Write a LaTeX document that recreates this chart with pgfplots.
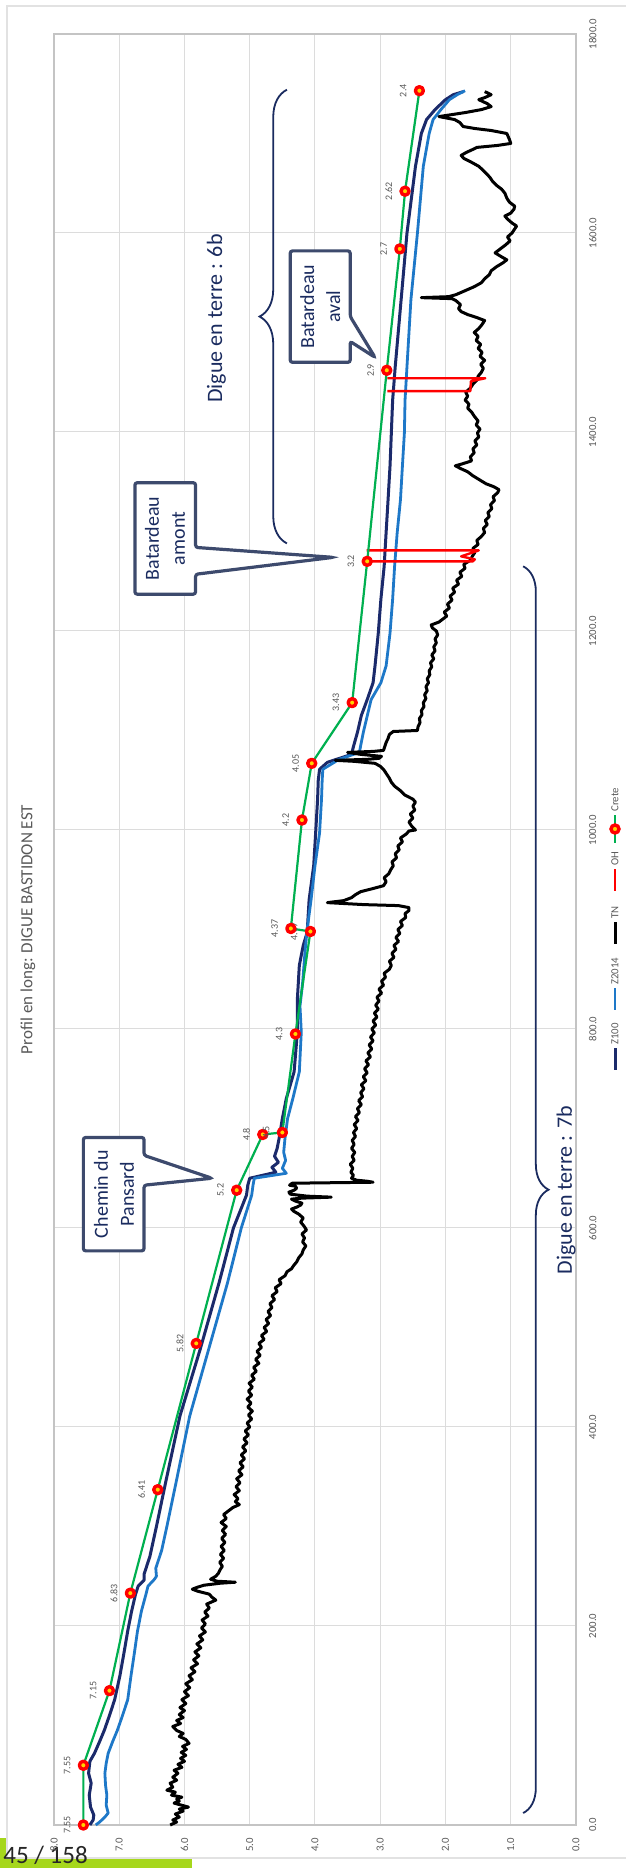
\documentclass[border=0pt]{standalone}
\usepackage{fontspec}
\setmainfont{Carlito}
\usepackage{pgfplots}
\pgfplotsset{compat=1.18}
\usepackage{pgfplotstable}
\usetikzlibrary{decorations.pathreplacing}

\definecolor{zcentc}{HTML}{1B2A6B}
\definecolor{zdeuxc}{HTML}{1E78C8}
\definecolor{cretec}{HTML}{00B050}
\definecolor{ohc}{HTML}{FF0000}
\definecolor{markfill}{HTML}{FFD400}
\definecolor{labelgray}{HTML}{595959}
\definecolor{gridgray}{HTML}{DCDCDC}
\definecolor{axisgray}{HTML}{C4C4C4}
\definecolor{framec}{HTML}{E2E2E2}
\definecolor{calloutc}{HTML}{3D4A6D}
\definecolor{navytext}{HTML}{1A2B5F}
\definecolor{pagegreen}{HTML}{A6D71C}

\newcommand\tickfont{\fontsize{5.4}{6}\selectfont}
\newcommand\valfont{\fontsize{5}{6}\selectfont}
\newcommand\titlefont{\fontsize{8.5}{10}\selectfont}
\newcommand\notefont{\fontsize{11}{13}\selectfont}
\newcommand\calloutfont{\fontsize{10}{13}\selectfont}

% Crete (crest levels with stated values)
\pgfplotstableread{
d z
0 7.55
60 7.55
135 7.15
233 6.83
337 6.41
484 5.82
638 5.2
694 4.8
696 4.5
795 4.3
898 4.07
901 4.37
1010 4.2
1067 4.05
1128 3.43
1270 3.2
1462 2.9
1584 2.7
1642 2.62
1743 2.4
}\crete

% Z100
\pgfplotstableread{
d z
0 7.45
5 7.40
10 7.39
18 7.44
30 7.46
42 7.43
52 7.47
64 7.45
72 7.38
84 7.30
95 7.23
110 7.15
126 7.07
150 6.99
172 6.93
195 6.87
215 6.81
232 6.75
240 6.71
246 6.62
252 6.62
270 6.53
300 6.43
344 6.29
411 6.07
478 5.76
545 5.47
600 5.25
633 5.05
643 5.03
650 5.00
656 4.60
661 4.66
666 4.56
672 4.62
680 4.58
690 4.55
710 4.50
730 4.44
757 4.32
797 4.27
830 4.27
864 4.24
884 4.18
897 4.12
930 4.09
964 4.02
997 3.99
1031 3.96
1050 3.95
1061 3.93
1068 3.81
1076 3.44
1084 3.41
1098 3.35
1115 3.29
1131 3.20
1148 3.11
1165 3.08
1198 3.03
1232 2.99
1265 2.94
1299 2.91
1332 2.88
1366 2.85
1399 2.83
1432 2.81
1466 2.77
1533 2.68
1600 2.59
1667 2.46
1700 2.37
1714 2.29
1724 2.16
1734 2.00
1739 1.88
1742 1.73
}\zcent

% Z2014
\pgfplotstableread{
d z
0 7.36
3 7.30
8 7.22
12 7.17
20 7.20
30 7.19
40 7.21
52 7.22
62 7.20
72 7.17
84 7.10
95 7.03
110 6.95
126 6.87
150 6.82
172 6.77
195 6.72
215 6.66
232 6.59
240 6.56
247 6.46
250 6.43
258 6.44
276 6.35
300 6.27
344 6.13
411 5.92
478 5.63
545 5.34
600 5.13
633 4.97
643 4.95
650 4.93
655 4.44
660 4.50
668 4.45
676 4.48
690 4.46
710 4.42
730 4.34
757 4.24
797 4.21
823 4.23
846 4.19
880 4.15
900 4.12
930 4.06
964 4.00
997 3.93
1031 3.90
1050 3.89
1061 3.88
1071 3.63
1078 3.32
1098 3.26
1131 3.14
1148 2.99
1165 2.91
1198 2.85
1232 2.81
1265 2.78
1299 2.74
1332 2.69
1366 2.66
1399 2.63
1432 2.62
1466 2.59
1533 2.53
1600 2.43
1667 2.34
1700 2.25
1714 2.19
1724 2.07
1734 1.94
1739 1.82
1743 1.70
}\zdeux

% TN (terrain naturel)
\pgfplotstableread{
d z
0 6.22
3 6.12
5 6.18
8 6.08
11 6.14
14 6.02
16 6.08
18 5.94
20 6.05
22 6.16
24 6.08
26 6.12
28 6.04
30 6.20
33 6.14
35 6.27
38 6.18
42 6.22
45 6.12
48 6.18
52 6.10
55 6.16
58 6.04
61 6.10
64 6.00
67 6.06
70 5.98
73 6.05
76 5.97
79 6.03
82 5.93
86 5.98
89 6.08
92 6.02
95 6.12
99 6.18
102 6.06
105 6.12
108 6.02
111 6.08
115 6.00
118 6.07
122 5.98
126 6.04
130 5.94
134 6.00
138 5.92
142 5.98
146 5.88
150 5.93
154 5.84
158 5.90
162 5.80
166 5.86
170 5.78
174 5.84
178 5.75
182 5.81
186 5.72
190 5.77
194 5.68
198 5.74
202 5.68
206 5.73
210 5.64
214 5.69
218 5.62
222 5.66
226 5.52
229 5.58
232 5.62
235 5.80
237 5.88
239 5.80
241 5.70
243 5.45
244 5.22
245 5.50
247 5.60
250 5.52
253 5.48
257 5.45
260 5.42
264 5.46
268 5.40
272 5.45
276 5.39
280 5.44
284 5.38
288 5.43
292 5.37
296 5.42
300 5.36
304 5.44
308 5.36
312 5.40
316 5.32
319 5.26
322 5.16
325 5.22
328 5.18
332 5.24
336 5.16
340 5.21
344 5.15
348 5.20
352 5.12
356 5.17
360 5.10
364 5.15
368 5.08
372 5.13
376 5.06
380 5.11
384 5.04
388 5.09
392 5.02
396 5.07
400 5.00
404 5.04
408 4.97
412 5.02
416 4.96
420 5.03
424 4.98
428 5.04
432 4.97
436 5.02
440 4.96
444 5.01
448 4.93
452 4.97
456 4.90
460 4.94
464 4.86
468 4.91
472 4.84
476 4.89
480 4.82
484 4.86
488 4.78
492 4.82
496 4.74
500 4.78
504 4.71
508 4.75
512 4.68
516 4.72
520 4.66
524 4.69
528 4.62
532 4.66
536 4.58
540 4.61
544 4.52
548 4.55
552 4.46
556 4.43
559 4.36
562 4.33
566 4.28
570 4.25
574 4.20
578 4.18
582 4.14
586 4.19
590 4.16
594 4.20
598 4.13
602 4.17
606 4.22
610 4.18
614 4.25
617 4.33
619 4.36
621 4.28
623 4.22
625 4.20
627 4.30
629 4.36
630 4.20
631 3.75
632 4.12
634 4.38
636 4.40
638 4.32
640 4.28
642 4.30
643 4.39
645 4.35
646 3.11
647 3.20
648 3.36
650 3.44
653 3.41
656 3.45
660 3.42
664 3.46
668 3.40
672 3.43
676 3.39
680 3.44
684 3.40
688 3.43
692 3.38
696 3.41
700 3.36
704 3.40
708 3.34
712 3.38
716 3.32
720 3.35
724 3.29
728 3.33
732 3.27
736 3.30
740 3.25
744 3.29
748 3.22
752 3.26
756 3.20
760 3.24
764 3.18
768 3.22
772 3.15
776 3.19
780 3.13
784 3.17
788 3.11
792 3.15
796 3.09
800 3.13
804 3.07
808 3.11
812 3.05
816 3.09
820 3.03
824 3.07
828 3.02
832 3.05
836 2.98
840 3.02
844 2.95
848 2.98
852 2.92
856 2.94
860 2.86
864 2.83
868 2.86
872 2.79
876 2.82
880 2.76
884 2.79
888 2.72
892 2.76
896 2.70
900 2.73
904 2.66
908 2.69
912 2.61
916 2.62
919 2.56
922 2.56
924 2.72
925 3.25
927 3.81
929 3.56
932 3.44
935 3.38
938 3.30
941 3.12
944 2.95
948 2.91
952 2.94
956 2.87
960 2.84
964 2.80
968 2.82
972 2.75
976 2.77
980 2.71
984 2.73
988 2.66
992 2.69
996 2.60
999 2.56
1000 2.46
1004 2.52
1008 2.56
1012 2.50
1016 2.54
1020 2.47
1024 2.50
1028 2.46
1031 2.50
1035 2.62
1040 2.70
1044 2.78
1048 2.83
1052 2.86
1056 2.90
1060 2.94
1064 3.00
1067 3.08
1069 3.40
1070 3.69
1071 3.20
1072 3.02
1074 2.98
1076 3.30
1078 3.50
1079 3.10
1080 2.95
1084 2.93
1088 2.91
1092 2.88
1096 2.86
1099 2.80
1100 2.43
1104 2.42
1108 2.39
1112 2.40
1116 2.36
1120 2.37
1124 2.33
1128 2.34
1132 2.30
1136 2.32
1140 2.28
1144 2.30
1148 2.26
1152 2.28
1156 2.24
1160 2.25
1164 2.21
1168 2.23
1172 2.18
1176 2.21
1180 2.16
1184 2.18
1188 2.14
1192 2.16
1196 2.12
1200 2.14
1203 2.20
1206 2.22
1209 2.10
1212 2.04
1215 1.98
1219 2.02
1223 1.94
1227 1.97
1231 1.90
1235 1.93
1239 1.86
1243 1.89
1247 1.80
1251 1.83
1255 1.75
1259 1.78
1263 1.70
1267 1.72
1271 1.62
1275 1.59
1279 1.55
1283 1.58
1287 1.50
1291 1.52
1295 1.45
1299 1.40
1303 1.42
1307 1.36
1311 1.39
1315 1.33
1319 1.35
1323 1.29
1327 1.31
1331 1.25
1335 1.27
1339 1.20
1342 1.18
1345 1.26
1348 1.38
1352 1.48
1356 1.58
1360 1.66
1363 1.76
1366 1.85
1368 1.74
1371 1.60
1375 1.62
1379 1.56
1383 1.58
1387 1.52
1391 1.55
1395 1.49
1399 1.51
1403 1.47
1407 1.53
1411 1.50
1416 1.56
1420 1.60
1424 1.66
1428 1.64
1432 1.70
1436 1.66
1440 1.69
1444 1.62
1448 1.58
1452 1.52
1456 1.50
1460 1.45
1464 1.42
1468 1.46
1472 1.40
1476 1.47
1480 1.44
1484 1.50
1488 1.46
1492 1.53
1496 1.50
1500 1.56
1504 1.49
1508 1.44
1512 1.40
1515 1.52
1518 1.66
1521 1.76
1524 1.80
1528 1.77
1532 1.84
1534 1.90
1535 2.37
1536 1.95
1538 1.84
1542 1.70
1546 1.56
1550 1.45
1554 1.40
1558 1.33
1562 1.30
1566 1.22
1570 1.12
1573 1.06
1576 1.14
1580 1.24
1584 1.16
1588 1.08
1592 1.01
1596 1.05
1600 0.98
1604 0.94
1607 0.91
1610 0.98
1614 1.05
1617 1.09
1620 1.00
1624 0.95
1627 0.94
1631 1.02
1635 1.06
1640 1.09
1644 1.14
1648 1.22
1652 1.28
1656 1.32
1660 1.38
1664 1.44
1667 1.49
1671 1.60
1675 1.72
1678 1.76
1681 1.68
1684 1.58
1686 1.52
1688 1.20
1690 1.00
1694 1.02
1700 1.06
1703 1.30
1705 1.55
1707 1.73
1711 1.78
1714 1.86
1717 2.10
1719 1.90
1721 1.70
1724 1.45
1727 1.30
1730 1.36
1734 1.49
1736 1.40
1739 1.30
1741 1.36
1742 1.40
}\tn

% OH (two walls)
\pgfplotstableread{
d z
1281 3.21
1281 1.49
1275 1.76
1272 1.55
1270 1.58
1270 3.21
}\ohA
\pgfplotstableread{
d z
1454 2.89
1454 1.39
1451 1.61
1441 1.62
1441 2.89
}\ohB

\begin{document}
\begin{tikzpicture}
\useasboundingbox (-27pt,-21.5pt) rectangle (286pt,912.5pt);

% page tab and chart area frame
\fill[pagegreen] (-30pt,-25pt) rectangle (69pt,-6.5pt);
\draw[framec, fill=white, line width=0.6pt] (-23.5pt,-16.5pt) rectangle (330pt,909.5pt);
\node[anchor=base west, inner sep=0, font=\fontsize{12.5}{14}\selectfont, text=black!85] at (-25.5pt,-19.5pt) {45 / 158};

\begin{axis}[
  at={(0pt,0pt)}, anchor=south west,
  scale only axis, width=261pt, height=895.5pt,
  xmin=0, xmax=8, ymin=0, ymax=1800,
  x dir=reverse,
  clip=false,
  xtick={0,1,2,3,4,5,6,7,8},
  ytick={0,200,400,600,800,1000,1200,1400,1600,1800},
  /pgf/number format/assume math mode=true,
  /pgf/number format/1000 sep={},
  xticklabel={\pgfmathprintnumber[fixed,fixed zerofill,precision=1]{\tick}},
  yticklabel={\pgfmathprintnumber[fixed,fixed zerofill,precision=1]{\tick}},
  xticklabel style={rotate=90, anchor=east, font=\tickfont, text=labelgray},
  yticklabel style={rotate=90, anchor=north, font=\tickfont, text=labelgray},
  xticklabel shift=3pt, yticklabel shift=3pt,
  yticklabel pos=right,
  major tick length=0pt,
  grid=major,
  major grid style={draw=gridgray, line width=0.5pt},
  axis line style={draw=axisgray, line width=0.6pt},
  every axis plot/.append style={line join=round},
]
\addplot[zcentc, line width=1.5pt] table[x=z,y=d]{\zcent};
\addplot[zdeuxc, line width=1.4pt] table[x=z,y=d]{\zdeux};
\addplot[black, line width=1.5pt] table[x=z,y=d]{\tn};
\addplot[ohc, line width=1.2pt] table[x=z,y=d]{\ohA};
\addplot[ohc, line width=1.2pt, forget plot] table[x=z,y=d]{\ohB};
\addplot[cretec, line width=1.1pt, mark=*, mark size=2pt,
  mark options={draw=red, fill=markfill, line width=1.7pt},
  nodes near coords, point meta=x,
  every node near coord/.append style={rotate=90, anchor=south, font=\valfont,
    text=labelgray, inner xsep=0.5pt, inner ysep=5.6pt}]
  table[x=z,y=d]{\crete};

% section braces
\draw[decorate, decoration={brace, amplitude=13.7pt}, navytext, line width=0.9pt]
  (axis cs:4.43,1288) -- (axis cs:4.43,1744);
\node[rotate=90, font=\notefont, text=navytext] at (axis cs:5.51,1514) {Digue en terre : 6b};
\draw[decorate, decoration={brace, amplitude=12.7pt}, navytext, line width=0.9pt]
  (axis cs:0.81,1265) -- (axis cs:0.81,12);
\node[rotate=90, font=\notefont, text=navytext] at (axis cs:0.15,638) {Digue en terre : 7b};

% callouts
\draw[calloutc, line width=1.6pt, fill=white, rounded corners=1.2pt]
  (axis cs:7.55,691) -- (axis cs:6.62,691) -- (axis cs:6.62,673) -- (axis cs:5.58,650)
  -- (axis cs:6.62,643) -- (axis cs:6.62,577) -- (axis cs:7.55,577) -- cycle;
\node[rotate=90, align=center, font=\calloutfont, text=navytext] at (axis cs:7.08,634) {Chemin du\\Pansard};

\draw[calloutc, line width=1.6pt, fill=white, rounded corners=1.2pt]
  (axis cs:6.76,1349) -- (axis cs:5.83,1349) -- (axis cs:5.83,1284) -- (axis cs:3.72,1274)
  -- (axis cs:5.83,1257) -- (axis cs:5.83,1237) -- (axis cs:6.76,1237) -- cycle;
\node[rotate=90, align=center, font=\calloutfont, text=navytext] at (axis cs:6.30,1293) {Batardeau\\amont};

\draw[calloutc, line width=1.6pt, fill=white, rounded corners=1.2pt]
  (axis cs:4.38,1582) -- (axis cs:3.46,1582) -- (axis cs:3.46,1516) -- (axis cs:3.08,1475)
  -- (axis cs:3.46,1491) -- (axis cs:3.46,1470) -- (axis cs:4.38,1470) -- cycle;
\node[rotate=90, align=center, font=\calloutfont, text=navytext] at (axis cs:3.92,1526) {Batardeau\\aval};
\end{axis}

% title
\node[rotate=90, font=\titlefont, text=labelgray] at (-13pt,447.75pt) {Profil en long: DIGUE BASTIDON EST};

% legend
\draw[zcentc, line width=1.5pt] (280.5pt,377.5pt) -- (280.5pt,388.5pt);
\node[rotate=90, anchor=west, inner sep=0pt, font=\tickfont, text=labelgray] at (280.5pt,390pt) {Z100};
\draw[zdeuxc, line width=1.4pt] (280.5pt,407.5pt) -- (280.5pt,418.5pt);
\node[rotate=90, anchor=west, inner sep=0pt, font=\tickfont, text=labelgray] at (280.5pt,420pt) {Z2014};
\draw[black, line width=1.5pt] (280.5pt,440.5pt) -- (280.5pt,451.5pt);
\node[rotate=90, anchor=west, inner sep=0pt, font=\tickfont, text=labelgray] at (280.5pt,453pt) {TN};
\draw[ohc, line width=1.2pt] (280.5pt,467pt) -- (280.5pt,478pt);
\node[rotate=90, anchor=west, inner sep=0pt, font=\tickfont, text=labelgray] at (280.5pt,479.5pt) {OH};
\draw[cretec, line width=1.1pt] (280.5pt,491pt) -- (280.5pt,505pt);
\filldraw[draw=red, fill=markfill, line width=1.7pt] (280.5pt,498pt) circle (2pt);
\node[rotate=90, anchor=west, inner sep=0pt, font=\tickfont, text=labelgray] at (280.5pt,506.5pt) {Crete};
\end{tikzpicture}
\end{document}
